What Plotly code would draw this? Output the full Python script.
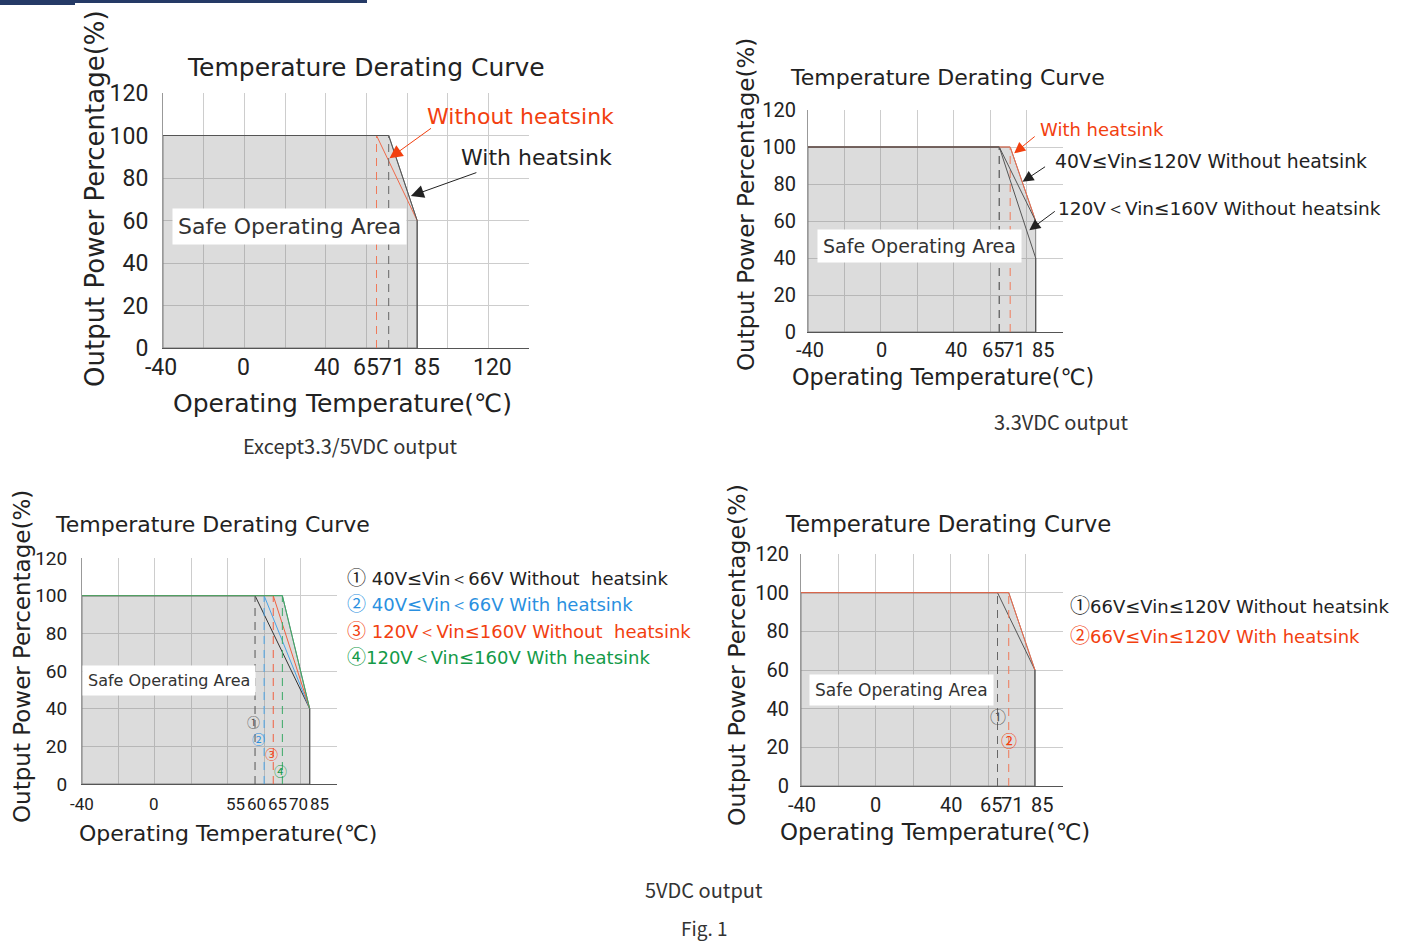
import plotly.graph_objects as go

W, H = 1410, 941

# ---------------- data ----------------
x_grid_min = -40
y_ticks = [0, 20, 40, 60, 80, 100, 120]

# Chart 1: Except 3.3/5VDC output
c1_x_max = 140
c1_starts = [65, 71]             # without heatsink, with heatsink
c1_names = ["Without heatsink", "With heatsink"]
c1_end_temp = 85
c1_end_pct = [60, 60]
c1_tick_labels = [-40, 0, 40, 65, 71, 85, 120]

# Chart 2: 3.3VDC output
c2_x_max = 100
c2_starts = [71, 65, 65]
c2_names = ["With heatsink", "40V≤Vin≤120V Without heatsink", "120V＜Vin≤160V Without heatsink"]
c2_end_temp = 85
c2_end_pct = [60, 60, 40]
c2_tick_labels = [-40, 0, 40, 65, 71, 85]

# Chart 3: 5VDC output (left)
c3_x_max = 100
c3_starts = [55, 60, 65, 70]
c3_marks = ["①", "②", "③", "④"]
c3_names = [" 40V≤Vin＜66V Without  heatsink", " 40V≤Vin＜66V With heatsink",
            " 120V＜Vin≤160V Without  heatsink", "120V＜Vin≤160V With heatsink"]
c3_mark_pct = [33, 24, 16, 7]
c3_end_temp = 85
c3_end_pct = [40, 40, 40, 40]
c3_tick_labels = [-40, 0, 55, 60, 65, 70, 85]

# Chart 4: 5VDC output (right)
c4_x_max = 100
c4_starts = [65, 71]
c4_marks = ["①", "②"]
c4_names = ["66V≤Vin≤120V Without heatsink", "66V≤Vin≤120V With heatsink"]
c4_mark_pct = [36, 24]
c4_end_temp = 85
c4_end_pct = [60, 60]
c4_tick_labels = [-40, 0, 40, 65, 71, 85]

# ---------------- style ----------------
FONT = "DejaVu Sans"
NUM = "Roboto"
CJK = "Noto Sans CJK SC"
ORANGE = "#f2400f"
BLACK = "#222222"
BLUE = "#2a90e0"
GREEN = "#139a48"
FILL = "rgba(120,120,120,0.26)"
GRID = "#cdcdcd"

fig = go.Figure()

def px2paper(x, y):
    return x / W, 1 - y / H

def setup_axes(idx, box, xmax, tick_size, standoff):
    x0, y0, x1, y1 = box   # pixel box of plot area
    xd = [x0 / W, x1 / W]
    yd = [1 - y1 / H, 1 - y0 / H]
    sfx = "" if idx == 1 else str(idx)
    fig.update_layout(**{
        "xaxis" + sfx: dict(domain=xd, range=[x_grid_min, xmax], anchor="y" + sfx,
                            tickmode="linear", tick0=-40, dtick=20, showticklabels=False,
                            showgrid=True, gridcolor=GRID, gridwidth=1, zeroline=False,
                            showline=True, linecolor="#555", linewidth=1, ticks="",
                            automargin=False),
        "yaxis" + sfx: dict(domain=yd, range=[0, 120], anchor="x" + sfx,
                            tickmode="array", tickvals=y_ticks, showgrid=True,
                            gridcolor=GRID, gridwidth=1, zeroline=False,
                            showline=True, linecolor="#999", linewidth=1, ticks="",
                            ticklabelstandoff=standoff, automargin=False,
                            tickfont=dict(family=NUM, size=tick_size, color=BLACK)),
    })
    return "x" + sfx, "y" + sfx

def area(xr, yr, starts, end_temp, end_pct):
    knee = max(starts)
    top_end = max(end_pct)
    fig.add_trace(go.Scatter(
        x=[x_grid_min, x_grid_min, knee, end_temp, end_temp, x_grid_min],
        y=[0, 100, 100, top_end, 0, 0], mode="lines", fill="toself",
        fillcolor=FILL, line=dict(color="#808080", width=1),
        xaxis=xr, yaxis=yr, showlegend=False, hoverinfo="skip"))

def curves(xr, yr, starts, end_temp, end_pct, colors, dash_colors):
    for s, e, c, dc in zip(starts, end_pct, colors, dash_colors):
        fig.add_trace(go.Scatter(x=[x_grid_min, s, end_temp], y=[100, 100, e], mode="lines",
                                 line=dict(color=c, width=1), xaxis=xr, yaxis=yr,
                                 showlegend=False, hoverinfo="skip"))
        fig.add_trace(go.Scatter(x=[s, s], y=[0, 100], mode="lines",
                                 line=dict(color=dc, width=1, dash="8px,6px"), xaxis=xr, yaxis=yr,
                                 showlegend=False, hoverinfo="skip"))
    fig.add_trace(go.Scatter(x=[end_temp, end_temp], y=[0, min(end_pct)], mode="lines",
                             line=dict(color="#555", width=1.2), xaxis=xr, yaxis=yr,
                             showlegend=False, hoverinfo="skip"))

annotations = []

def text(x, y, s, size, color=BLACK, family=FONT, xanchor="center", angle=0, yanchor="middle"):
    px, py = px2paper(x, y)
    annotations.append(dict(x=px, y=py, xref="paper", yref="paper", text=s, showarrow=False,
                            xanchor=xanchor, yanchor=yanchor, textangle=angle,
                            font=dict(family=family, size=size, color=color)))

def xticks(xr, yr, labels, shifts, size, yshift):
    for v, sh in zip(labels, shifts):
        annotations.append(dict(x=v, y=0, xref=xr, yref=yr, text=str(v), showarrow=False,
                                xanchor="center", yanchor="top", xshift=sh, yshift=yshift,
                                font=dict(family=NUM, size=size, color=BLACK)))

def safe_label(xr, yr, x, y, size):
    annotations.append(dict(x=x, y=y, xref=xr, yref=yr, text="Safe Operating Area", showarrow=False,
                            bgcolor="white", borderpad=5,
                            font=dict(family=FONT, size=size, color="#333")))

def arrow(xr, yr, x, y, ax, ay, color, size=2.2):
    annotations.append(dict(x=x, y=y, xref=xr, yref=yr, ax=ax, ay=ay, text="",
                            showarrow=True, arrowhead=2, arrowsize=size, arrowwidth=1,
                            arrowcolor=color, standoff=0))

def circ(m, size):
    return f"<span style=\"font-family:'{CJK}';font-size:{size}px\">{m}</span>"

# ---------- Chart 1 ----------
xr, yr = setup_axes(1, (163, 93, 529, 348), c1_x_max, 23, 9)
area(xr, yr, c1_starts, c1_end_temp, c1_end_pct)
curves(xr, yr, c1_starts, c1_end_temp, c1_end_pct, ["#f06a4a", "#555"], ["#f07a5a", "#666"])
xticks(xr, yr, c1_tick_labels, [-2, -1, 1, -11, 3, 10, 4], 23, -4)
safe_label(xr, yr, 22, 57, 22)
arrow(xr, yr, 71.4, 89.3, 43, -31, ORANGE, 2.6)
arrow(xr, yr, 81.9, 71.5, 67, -24, BLACK, 2.6)
text(520, 117, "Without heatsink", 22, ORANGE)
text(536, 157, "With heatsink", 22, BLACK)
text(366, 68, "Temperature Derating Curve", 25)
text(95, 199, "Output Power Percentage(%)", 26, angle=-90)
text(342, 403, "Operating Temperature(℃)", 25)
text(350, 445, "Except3.3/5VDC output", 20, "#333", CJK)

# ---------- Chart 2 ----------
xr, yr = setup_axes(2, (808, 110, 1063, 332), c2_x_max, 20, 7)
area(xr, yr, c2_starts, c2_end_temp, c2_end_pct)
curves(xr, yr, c2_starts, c2_end_temp, c2_end_pct, ["#f06a4a", "#555", "#555"], ["#f07a5a", "#666", "#666"])
xticks(xr, yr, c2_tick_labels, [2, 1, 2, -6, 4, 7], 20, -4)
safe_label(xr, yr, 21, 46.4, 19)
arrow(xr, yr, 73.2, 96.6, 22, -18, ORANGE, 2.2)
arrow(xr, yr, 77.8, 81.2, 24, -16, BLACK, 2.2)
arrow(xr, yr, 81.5, 55.0, 27, -20, BLACK, 2.2)
text(1038, 129, c2_names[0], 18, ORANGE, xanchor="left")
text(1053, 161, c2_names[1], 18.8, BLACK, xanchor="left")
text(1056, 209, c2_names[2], 18.5, BLACK, xanchor="left")
text(947, 78, "Temperature Derating Curve", 22)
text(746, 205, "Output Power Percentage(%)", 23, angle=-90)
text(943, 377, "Operating Temperature(℃)", 22.3)
text(1061, 422, "3.3VDC output", 20, "#333", CJK)

# ---------- Chart 3 ----------
xr, yr = setup_axes(3, (82, 558, 337, 784), c3_x_max, 19, 10)
area(xr, yr, c3_starts, c3_end_temp, c3_end_pct)
c3_cols = ["#333", "#4aa3e6", "#f06040", "#3aaa66"]
curves(xr, yr, c3_starts, c3_end_temp, c3_end_pct, c3_cols, ["#555", "#4aa3e6", "#f06040", "#3aaa66"])
xticks(xr, yr, c3_tick_labels, [0, -1, -20, -8, 4, 16, 10], 17, -8)
safe_label(xr, yr, 8, 55, 16)
for s, m, p, c, sh in zip(c3_starts, c3_marks, c3_mark_pct, ["#555", BLUE, ORANGE, GREEN], [-2, -6, -2, -2]):
    annotations.append(dict(x=s, y=p, xref=xr, yref=yr, text=m, showarrow=False, xshift=sh,
                            font=dict(family=CJK, size=13, color=c)))
for i, (m, n, c) in enumerate(zip(c3_marks, c3_names, [BLACK, BLUE, ORANGE, GREEN])):
    text(345, 576 + i * 26.5, circ(m, 19) + n, 18, c, xanchor="left")
text(212, 524, "Temperature Derating Curve", 22)
text(22, 657, "Output Power Percentage(%)", 23, angle=-90)
text(228, 833, "Operating Temperature(℃)", 22)

# ---------- Chart 4 ----------
xr, yr = setup_axes(4, (801, 554, 1063, 786), c4_x_max, 20, 7)
area(xr, yr, c4_starts, c4_end_temp, c4_end_pct)
curves(xr, yr, c4_starts, c4_end_temp, c4_end_pct, ["#555", "#f06a4a"], ["#666", "#f07a5a"])
xticks(xr, yr, c4_tick_labels, [1, 0, 0, -7, 3, 7], 20, -5)
safe_label(xr, yr, 13.5, 49.6, 17)
for s, m, p, c in zip(c4_starts, c4_marks, c4_mark_pct, ["#555", ORANGE]):
    annotations.append(dict(x=s, y=p, xref=xr, yref=yr, text=m, showarrow=False,
                            font=dict(family=CJK, size=16, color=c)))
text(1068, 604, circ(c4_marks[0], 20) + c4_names[0], 18, BLACK, xanchor="left")
text(1068, 634, circ(c4_marks[1], 20) + c4_names[1], 18, ORANGE, xanchor="left")
text(948, 524, "Temperature Derating Curve", 22.8)
text(737, 655, "Output Power Percentage(%)", 23.6, angle=-90)
text(935, 832, "Operating Temperature(℃)", 22.9)

text(704, 889, "5VDC output", 20, "#333", CJK)
text(704, 927, "Fig. 1", 19, "#333", CJK)

shapes = [
    dict(type="rect", xref="paper", yref="paper", x0=0, x1=367 / W, y0=1 - 3 / H, y1=1,
         fillcolor="#253a66", line=dict(width=0)),
    dict(type="rect", xref="paper", yref="paper", x0=0, x1=75 / W, y0=1 - 5 / H, y1=1,
         fillcolor="#253a66", line=dict(width=0)),
]

fig.update_layout(width=W, height=H,
                  margin=dict(l=0, r=0, t=0, b=0, pad=0, autoexpand=False),
                  paper_bgcolor="white", plot_bgcolor="white",
                  annotations=annotations, shapes=shapes, showlegend=False)

fig.write_html("out.html", config={"displayModeBar": False},
               post_script="document.body.style.margin='0';document.body.style.overflow='hidden';")
